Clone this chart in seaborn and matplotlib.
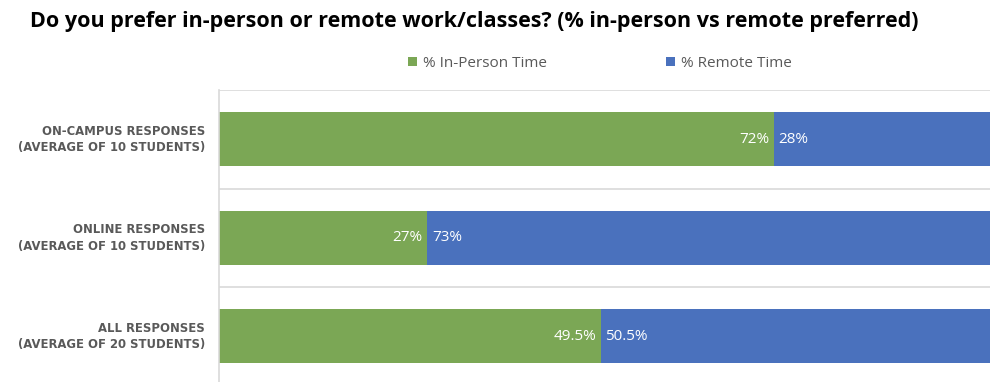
import matplotlib
matplotlib.use("Agg")
import matplotlib.pyplot as plt
import seaborn as sns
import pandas as pd
from matplotlib.patches import Patch
from matplotlib.font_manager import FontProperties

categories = ["ON-CAMPUS RESPONSES\n(AVERAGE OF 10 STUDENTS)",
              "ONLINE RESPONSES\n(AVERAGE OF 10 STUDENTS)",
              "ALL RESPONSES\n(AVERAGE OF 20 STUDENTS)"]
in_person = [72, 27, 49.5]
remote = [28, 73, 50.5]
in_person_labels = ["72%", "27%", "49.5%"]
remote_labels = ["28%", "73%", "50.5%"]
series_names = ["% In-Person Time", "% Remote Time"]

GREEN = "#7BA755"
BLUE = "#4A71BD"
GREY = "#595959"

sns.set_style("white")
plt.rcParams["font.family"] = ["Open Sans", "DejaVu Sans"]

df = pd.DataFrame({"cat": categories, "in_person": in_person, "remote": remote})
df["total"] = df["in_person"] + df["remote"]

fig = plt.figure(figsize=(10, 3.82), dpi=100)
ax = fig.add_axes([0.219, -0.0092, 0.771, 0.7736])

sns.barplot(data=df, y="cat", x="total", color=BLUE, width=0.55, ax=ax,
            saturation=1, edgecolor="none")
sns.barplot(data=df, y="cat", x="in_person", color=GREEN, width=0.55, ax=ax,
            saturation=1, edgecolor="none")

ax.set_xlim(0, 100)
ax.set_ylim(2.5, -0.5)
ax.set_xlabel("")
ax.set_ylabel("")
ax.set_xticks([])
for b in [-0.5, 0.5, 1.5, 2.5]:
    ax.axhline(b, color="#D9D9D9", lw=1.2, zorder=0)
for s in ["top", "right", "bottom"]:
    ax.spines[s].set_visible(False)
ax.spines["left"].set_color("#D9D9D9")
ax.spines["left"].set_linewidth(1.2)

label_font = FontProperties(family="DejaVu Sans", weight="bold", size=8.4)
ax.set_yticks(range(len(categories)))
ax.set_yticklabels(categories, color=GREY, linespacing=1.35, ha="right")
for t in ax.get_yticklabels():
    t.set_fontproperties(label_font)
    t.set_verticalalignment("center")
ax.tick_params(axis="y", length=0, pad=10)

for i, (ip, rl, il) in enumerate(zip(in_person, remote_labels, in_person_labels)):
    ax.text(ip - 0.6, i, il, color="white", fontsize=11, ha="right", va="center")
    ax.text(ip + 0.6, i, rl, color="white", fontsize=11, ha="left", va="center")

fig.text(0.474, 0.945, "Do you prefer in-person or remote work/classes? (% in-person vs remote preferred)",
         ha="center", va="center", fontsize=15.5, fontweight="bold", color="black")

handles = [Patch(facecolor=GREEN, edgecolor="none"), Patch(facecolor=BLUE, edgecolor="none")]
fig.legend(handles, series_names, loc="center", bbox_to_anchor=(0.6, 0.834), ncol=2,
           frameon=False, fontsize=11, labelcolor=GREY, handlelength=0.6, handleheight=0.6,
           handletextpad=0.4, columnspacing=7.8)

fig.savefig("out.png", dpi=100, facecolor="white")
